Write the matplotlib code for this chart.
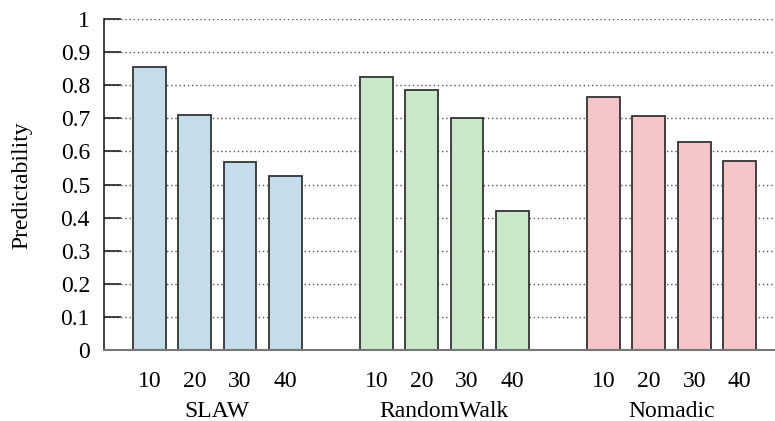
import numpy as np
import matplotlib.pyplot as plt

plt.rcParams['font.family'] = ['Liberation Serif', 'DejaVu Serif']

groups = ["SLAW", "RandomWalk", "Nomadic"]
sizes = ["10", "20", "30", "40"]
slaw = [0.856, 0.711, 0.567, 0.527]
randomwalk = [0.824, 0.785, 0.700, 0.419]
nomadic = [0.764, 0.708, 0.630, 0.571]
colors = ["#c5dcea", "#cbe7c9", "#f6c5c7"]

fig = plt.figure(figsize=(7.75, 4.21), dpi=100)
ax = fig.add_axes([0.134, 0.1686, 0.866, 0.786])

series = [slaw, randomwalk, nomadic]
xt = []
for g, vals in enumerate(series):
    x = np.arange(len(vals)) + g * 5
    ax.bar(x, vals, width=0.72, color=colors[g], edgecolor="#333333",
           linewidth=1.3, zorder=3)
    xt.extend(x)
    ax.text(g * 5 + 1.5, -0.185, groups[g], transform=ax.get_xaxis_transform(),
            ha="center", va="center", fontsize=17)

ax.set_xticks(xt)
ax.set_xticklabels(sizes * 3)
ax.set_xlim(-1, 13.78)
ax.set_ylim(0, 1)
ax.set_yticks(np.arange(0, 1.01, 0.1))
ax.set_yticklabels(["0", "0.1", "0.2", "0.3", "0.4", "0.5", "0.6", "0.7", "0.8", "0.9", "1"])
ax.tick_params(axis="x", length=0, pad=15, labelsize=17)
ax.tick_params(axis="y", direction="in", length=12, width=1.2, color="#222222",
               pad=10, labelsize=17)
ax.yaxis.grid(True, linestyle=(0, (1, 2)), color="#555555", linewidth=1.0, zorder=0)
ax.set_axisbelow(True)

ax.spines["top"].set_visible(False)
ax.spines["right"].set_visible(False)
ax.spines["left"].set_color("#222222")
ax.spines["left"].set_linewidth(1.2)
ax.spines["bottom"].set_color("#777777")
ax.spines["bottom"].set_linewidth(1.5)
ax.spines["bottom"].set_zorder(4)

fig.text(22 / 775, 0.56, "Predictability", rotation=90, ha="center",
         va="center", fontsize=17)

fig.savefig("out.png", dpi=100)
